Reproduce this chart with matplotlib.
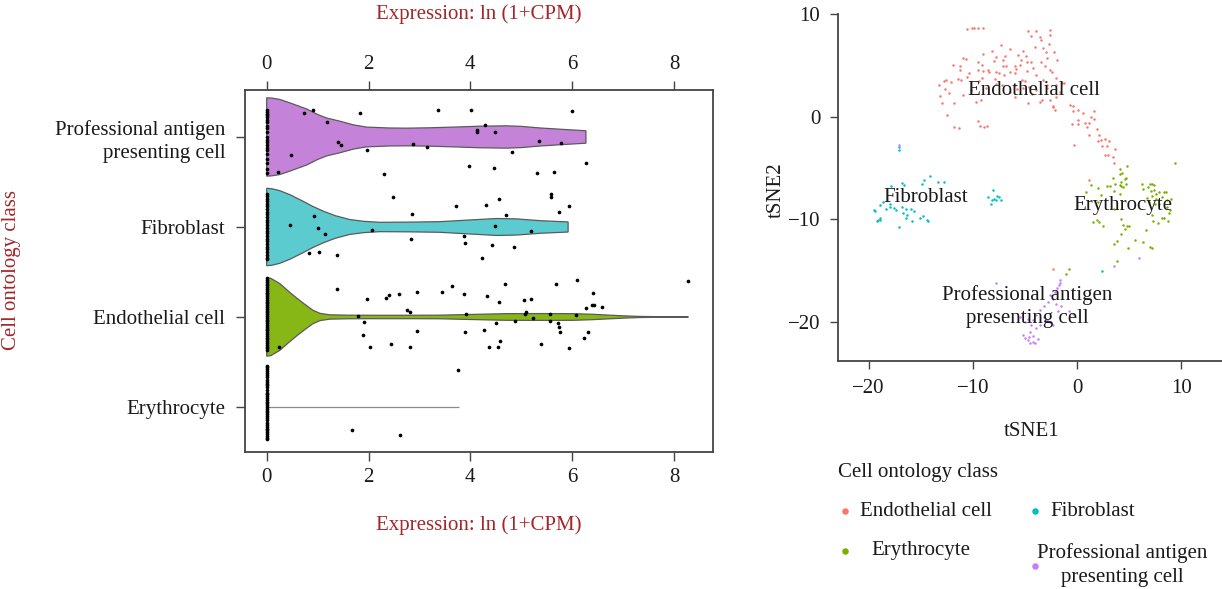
import numpy as np
import matplotlib
matplotlib.use("Agg")
import matplotlib.pyplot as plt

plt.rcParams['font.family'] = ['Liberation Serif', 'DejaVu Serif']
FS = 15
plt.rcParams['font.size'] = FS

# ---------------- data: violin panel ----------------
categories = ["Professional antigen\npresenting cell", "Fibroblast", "Endothelial cell", "Erythrocyte"]
violin_colors = ["#C483D8", "#5CCBCF", "#86B717", "#9A9A9A"]
x_ticks_expr = [0, 2, 4, 6, 8]

prof_prof_x = [0, 0.1, 0.26, 0.5, 0.79, 1.0, 1.18, 1.44, 1.7, 1.96, 2.4, 2.75, 3.2, 3.73, 4.2, 4.71, 5.0, 5.37, 5.8, 6.27]
prof_prof_w = [0.435, 0.432, 0.417, 0.37, 0.31, 0.25, 0.21, 0.175, 0.135, 0.11, 0.10, 0.098, 0.102, 0.111, 0.12, 0.124, 0.118, 0.10, 0.085, 0.069]
fib_prof_x = [0, 0.1, 0.25, 0.45, 0.7, 0.9, 1.11, 1.35, 1.63, 1.9, 2.22, 2.8, 3.4, 3.9, 4.51, 4.9, 5.37, 5.92]
fib_prof_w = [0.43, 0.425, 0.405, 0.36, 0.29, 0.23, 0.176, 0.125, 0.083, 0.063, 0.052, 0.054, 0.059, 0.075, 0.094, 0.09, 0.07, 0.056]
endo_prof_x = [0, 0.08, 0.26, 0.42, 0.59, 0.75, 0.91, 1.05, 1.24, 1.6, 2.09, 2.8, 3.4, 4.0, 4.71, 5.4, 6.02, 6.4, 6.68, 7.0, 7.33, 7.8, 8.28]
endo_prof_w = [0.435, 0.43, 0.37, 0.29, 0.21, 0.14, 0.074, 0.04, 0.024, 0.02, 0.019, 0.019, 0.02, 0.028, 0.037, 0.038, 0.037, 0.03, 0.022, 0.013, 0.006, 0.003, 0.002]
ery_prof_x = [0, 3.77]
ery_prof_w = [0.005, 0.005]

# expression points (value, jitter offset)
prof_x = [0.74, 0.90, 1.84, 3.37, 4.01, 6.00, 1.18, 4.29, 4.13, 4.13, 4.49, 1.41, 1.46, 0.47, 2.88, 3.15, 1.98, 5.34, 5.78, 4.81, 6.27, 0.22, 2.30, 3.97, 4.47, 5.31, 5.64]
prof_off = [-0.27, -0.30, -0.27, -0.30, -0.30, -0.29, -0.17, -0.13, -0.08, -0.06, -0.06, 0.06, 0.09, 0.20, 0.08, 0.11, 0.15, 0.04, 0.07, 0.17, 0.29, 0.39, 0.41, 0.32, 0.34, 0.40, 0.39]
prof_zero_off = [-0.30, -0.28, -0.26, -0.24, -0.22, -0.19, -0.17, -0.12, -0.10, -0.05, 0.0, 0.03, 0.06, 0.09, 0.12, 0.15, 0.19, 0.25, 0.29, 0.36, 0.40]

fib_x = [2.49, 3.71, 4.30, 4.57, 5.59, 5.59, 5.93, 5.74, 4.71, 2.86, 0.92, 0.46, 1.00, 1.14, 2.07, 4.49, 5.20, 3.87, 2.83, 3.90, 4.43, 4.86, 0.83, 1.03, 1.39, 4.23]
fib_off = [-0.33, -0.23, -0.24, -0.31, -0.37, -0.33, -0.23, -0.17, -0.13, -0.14, -0.12, -0.02, 0.01, 0.08, 0.03, -0.01, 0.04, 0.10, 0.13, 0.18, 0.20, 0.22, 0.29, 0.28, 0.31, 0.34]
fib_zero_off = [-0.37, -0.34, -0.31, -0.29, -0.26, -0.23, -0.20, -0.17, -0.14, -0.11, -0.08, -0.05, -0.02, 0.01, 0.04, 0.07, 0.10, 0.13, 0.16, 0.19, 0.22, 0.25, 0.28, 0.31, 0.34, 0.36]

endo_x = [1.39, 1.97, 2.34, 2.41, 2.60, 2.95, 3.44, 3.63, 3.88, 4.32, 4.69, 4.56, 5.06, 5.19, 5.69, 6.10, 6.41, 6.27, 6.39, 6.43, 6.58, 8.28, 2.76, 2.82, 1.79, 1.91, 1.89, 2.03, 2.45, 2.82, 2.95, 3.92, 3.90, 4.27, 4.50, 4.58, 4.37, 4.54, 4.88, 5.07, 5.10, 5.23, 5.38, 5.56, 5.57, 5.72, 5.74, 5.76, 5.93, 6.07, 6.23, 6.32, 0.25]
endo_off = [-0.31, -0.20, -0.21, -0.24, -0.26, -0.28, -0.28, -0.34, -0.26, -0.23, -0.37, -0.17, -0.19, -0.20, -0.37, -0.41, -0.27, -0.10, -0.13, -0.13, -0.11, -0.40, -0.08, -0.05, -0.01, 0.06, 0.20, 0.33, 0.30, 0.33, 0.16, -0.03, 0.17, 0.14, 0.07, 0.27, 0.33, 0.33, 0.05, -0.03, -0.06, 0.01, 0.30, -0.03, 0.04, 0.07, 0.11, 0.17, 0.34, -0.02, 0.23, 0.17, 0.33]
endo_zero_off = [-0.43, -0.41, -0.39, -0.37, -0.35, -0.33, -0.31, -0.29, -0.27, -0.25, -0.23, -0.21, -0.19, -0.17, -0.15, -0.13, -0.11, -0.09, -0.07, -0.05, -0.03, -0.01, 0.01, 0.03, 0.05, 0.07, 0.09, 0.11, 0.13, 0.15, 0.17, 0.19, 0.21, 0.23, 0.25, 0.27, 0.29, 0.31, 0.33, 0.35, 0.37]

ery_x = [3.76, 1.68, 2.61]
ery_off = [-0.41, 0.26, 0.31]
ery_zero_off = [-0.46, -0.44, -0.42, -0.40, -0.38, -0.36, -0.33, -0.30, -0.28, -0.26, -0.24, -0.22, -0.19, -0.16, -0.14, -0.12, -0.10, -0.08, -0.06, -0.04, -0.02, 0.0, 0.02, 0.04, 0.06, 0.08, 0.10, 0.12, 0.15, 0.18, 0.20, 0.22, 0.24, 0.26, 0.28, 0.30, 0.32, 0.34, 0.36]

# ---------------- data: tSNE panel ----------------
endo_tsne = [(-10.6, 8.5), (-10.1, 8.6), (-9.9, 8.6), (-9.5, 8.6), (-9.0, 8.6), (-4.7, 8.3), (-3.9, 8.3), (-2.6, 8.4),
             (-4.4, 7.9), (-3.6, 7.8), (-3.5, 7.5), (-2.6, 8.0), (-7.3, 7.0), (-6.4, 6.6), (-4.0, 6.8), (-2.7, 7.1),
             (-3.3, 6.7), (-3.0, 6.3), (-2.2, 6.3), (-5.2, 6.4), (-5.7, 6.0), (-4.9, 5.9), (-9.0, 6.1), (-7.8, 5.8),
             (-10.9, 5.7), (-10.7, 5.6), (-8.0, 5.4), (-7.1, 5.5), (-5.4, 5.5), (-4.8, 5.3), (-4.4, 5.3), (-3.5, 5.3),
             (-1.9, 5.5), (-2.9, 5.7), (-9.5, 5.3), (-9.1, 5.0), (-11.9, 5.0), (-11.2, 4.9), (-11.2, 4.5), (-9.5, 4.5),
             (-8.5, 4.5), (-7.8, 4.3), (-7.1, 4.9), (-6.8, 4.9), (-6.0, 4.9), (-5.5, 5.0), (-4.8, 4.4), (-4.2, 4.7),
             (-2.6, 4.5), (-2.4, 4.3), (-2.0, 3.8), (-1.4, 3.3), (-1.3, 3.3), (-9.0, 4.4), (-9.1, 3.8), (-8.4, 4.3),
             (-7.9, 3.7), (-7.5, 4.2), (-7.0, 4.1), (-6.4, 4.3), (-6.0, 4.2), (-5.3, 3.6), (-5.0, 3.5), (-3.9, 4.1),
             (-3.3, 3.6), (-2.9, 3.1), (-2.0, 3.1), (-12.6, 3.6), (-12.8, 3.5), (-12.1, 3.4), (-13.2, 3.1), (-11.4, 3.7),
             (-11.1, 3.6), (-10.6, 3.9), (-10.4, 4.2), (-9.4, 3.5), (-7.8, 3.2), (-7.2, 3.1), (-6.0, 3.1), (-5.8, 2.7),
             (-5.2, 2.8), (-4.6, 2.9), (-3.9, 2.6), (-2.9, 2.8), (-12.7, 2.7), (-12.3, 2.3), (-13.1, 2.0), (-13.0, 1.3),
             (-11.8, 1.3), (-10.9, 2.1), (-9.7, 1.4), (-9.2, 1.6), (-6.4, 2.4), (-6.0, 1.9), (-4.7, 1.3), (-3.6, 1.4),
             (-3.4, 1.6), (-2.6, 1.6), (-2.0, 1.9), (-2.3, 1.0), (-2.3, 0.9), (-2.1, 0.6), (-12.5, 0.2), (-11.8, -1.0),
             (-11.3, -1.1), (-9.5, -0.4), (-9.3, -0.9), (-8.9, -1.0), (-8.6, -0.9), (-0.7, 1.1), (-0.4, 1.0), (-0.4, 0.5),
             (0.1, 0.6), (0.6, 0.3), (1.6, 0.5), (1.3, 0.0), (1.6, -0.2), (0.1, -0.3), (-0.5, -0.7), (0.1, -0.7),
             (0.8, -0.6), (1.1, -0.6), (1.0, -1.0), (1.9, -1.2), (1.1, -1.8), (2.1, -1.8), (2.3, -2.3), (2.0, -2.4),
             (2.7, -2.2), (3.1, -2.4), (-0.3, -2.8), (2.4, -2.9), (2.9, -2.9), (3.6, -3.2), (2.7, -3.7), (3.0, -3.7),
             (3.4, -3.9), (3.5, -4.5), (1.1, -6.2), (-2.3, -14.9),
             (-8.2, 6.4), (-6.9, 5.9), (-5.9, 4.6), (-3.1, 4.9), (-8.7, 2.8), (-10.2, 2.6), (-4.3, 2.2), (-1.6, 2.4)]
fib_tsne = [(-14.1, -5.8), (-14.7, -6.2), (-14.9, -6.6), (-16.8, -6.5), (-16.6, -6.7), (-17.8, -6.8), (-13.3, -6.4),
            (-12.8, -6.4), (-18.9, -8.6), (-19.4, -9.2), (-18.3, -9.0), (-17.9, -8.8), (-17.6, -8.9), (-17.4, -9.1),
            (-16.8, -8.8), (-16.7, -9.4), (-16.4, -9.0), (-15.9, -9.0), (-15.6, -9.2), (-16.3, -9.6), (-16.4, -9.9),
            (-15.8, -10.2), (-15.1, -9.9), (-14.8, -9.7), (-14.4, -10.1), (-14.3, -10.2), (-18.9, -9.9), (-19.2, -10.2),
            (-18.9, -10.1), (-17.1, -10.8), (-18.6, -8.3), (-17.9, -8.5), (-8.1, -7.2), (-8.5, -7.8), (-8.2, -8.1),
            (-8.0, -8.0), (-7.7, -7.7), (-7.5, -7.8), (-7.3, -8.1), (-7.8, -8.1), (-8.3, -8.5), (-17.1, -3.0),
            (-17.1, -3.3), (-19.5, -9.1), (-19.1, -10.1), (2.4, -15.1)]
ery_tsne = [(4.1, -5.1), (4.8, -4.8), (4.1, -5.6), (4.3, -5.5), (4.7, -6.0), (4.6, -6.1), (3.4, -6.0), (1.3, -6.7),
            (2.9, -6.8), (3.2, -6.8), (3.6, -6.6), (4.1, -6.7), (4.2, -6.4), (4.2, -6.8), (4.4, -6.9), (4.7, -6.6),
            (2.0, -7.0), (2.3, -7.6), (0.9, -7.4), (3.5, -7.3), (4.1, -7.5), (6.2, -6.6), (6.3, -7.1), (7.0, -6.6),
            (7.2, -6.6), (7.4, -6.7), (6.8, -6.9), (7.1, -7.3), (7.4, -7.2), (7.6, -7.5), (7.9, -7.4), (8.3, -7.4),
            (8.5, -7.4), (6.7, -7.9), (7.2, -7.7), (7.6, -8.0), (8.1, -7.8), (8.6, -8.1), (9.0, -8.0), (6.9, -8.3),
            (7.5, -8.5), (7.9, -8.5), (8.6, -8.8), (8.9, -9.1), (8.8, -9.4), (2.0, -8.3), (3.5, -9.0), (7.2, -9.6),
            (8.1, -9.9), (8.3, -9.9), (7.3, -10.2), (7.8, -10.4), (8.7, -10.2), (1.5, -10.3), (1.9, -10.1), (2.1, -10.3),
            (2.5, -10.7), (4.2, -10.0), (4.4, -10.6), (4.8, -10.7), (4.6, -11.0), (5.0, -10.7), (6.6, -11.1), (4.2, -11.4),
            (3.8, -12.1), (3.5, -12.4), (5.6, -12.0), (6.3, -12.2), (7.0, -12.7), (7.2, -12.8), (4.9, -12.8), (9.4, -4.5),
            (3.85, -14.1), (-0.8, -14.9), (-1.1, -15.3)]
apc_tsne = [(-1.6, -15.9), (-1.6, -16.2), (-1.7, -16.4), (-1.9, -16.7), (-2.1, -17.1), (-2.6, -17.4), (-2.3, -17.8),
            (-2.8, -18.1), (-3.2, -18.5), (-2.0, -18.3), (-1.5, -18.5), (-0.8, -19.0), (-0.4, -19.2), (-1.8, -19.0),
            (-3.6, -18.9), (-3.9, -19.3), (-4.2, -19.8), (-4.7, -19.7), (-5.0, -20.0), (-4.4, -20.3), (-5.5, -19.5),
            (-3.2, -19.5), (-2.9, -19.8), (-2.6, -20.0), (-3.9, -20.6), (-4.5, -21.0), (-5.2, -21.3), (-5.0, -21.6),
            (-4.7, -21.8), (-4.2, -21.4), (-3.7, -21.7), (-4.0, -22.1), (-4.5, -22.1), (-3.6, -20.3), (-2.3, -20.3),
            (-7.8, -16.2), (-4.6, -21.5), (-4.2, -22.0), (5.9, -13.8), (3.5, -14.6), (-17.1, -2.8)]
tsne_names = ["Endothelial cell", "Fibroblast", "Erythrocyte", "Professional antigen\npresenting cell"]
tsne_colors = ["#F8766D", "#00BFC4", "#7CAE00", "#C77CFF"]
tsne_label_pos = [(-4.1, 2.5), (-14.5, -7.9), (4.4, -8.7), (-4.8, -18.5)]
tsne_ticks = [-20, -10, 0, 10]

# ---------------- figure ----------------
W, H = 1222, 589
fig = plt.figure(figsize=(W / 100, H / 100), dpi=100)
red = "#A3262A"
txt = "#1a1a1a"
axc = "#444444"
LS = 1.3

ax = fig.add_axes([245.3 / W, 1 - 451.7 / H, (712.7 - 245.3) / W, (451.7 - 90) / H])
profiles = [(prof_prof_x, prof_prof_w), (fib_prof_x, fib_prof_w), (endo_prof_x, endo_prof_w), (ery_prof_x, ery_prof_w)]
for i, (px, pw) in enumerate(profiles):
    px = np.asarray(px); pw = np.asarray(pw)
    xs = np.concatenate([px, px[::-1]])
    ys = np.concatenate([i - pw, (i + pw)[::-1]])
    ax.fill(xs, ys, facecolor=violin_colors[i], edgecolor="#5a5a5a" if i < 3 else "#8a8a8a",
            linewidth=0.9, zorder=2)

pts = [(prof_x, prof_off, prof_zero_off), (fib_x, fib_off, fib_zero_off),
       (endo_x, endo_off, endo_zero_off), (ery_x, ery_off, ery_zero_off)]
for i, (vx, vo, zo) in enumerate(pts):
    allx = list(vx) + [0.0] * len(zo)
    ally = [i + o for o in list(vo) + list(zo)]
    ax.scatter(allx, ally, s=7, color="black", zorder=3, linewidths=0)

ax.set_xlim(-0.42, 8.76)
ax.set_ylim(3.497, -0.522)
ax.set_yticks(range(len(categories)))
ax.set_yticklabels(categories, linespacing=LS)
ax.set_xticks(x_ticks_expr)
ax.tick_params(axis='x', top=True, labeltop=True, bottom=True, labelbottom=True,
               length=6.5, width=1.0, color=axc, pad=5, labelsize=FS, labelcolor=txt)
ax.tick_params(axis='y', length=6.5, width=1.0, color=axc, pad=8, labelsize=FS, labelcolor=txt)
for s in ax.spines.values():
    s.set_color(axc)
    s.set_linewidth(1.3)

fig.text(479 / W, 1 - 14 / H, "Expression: ln (1+CPM)", color=red, ha='center', va='center', fontsize=FS)
fig.text(479 / W, 1 - 525 / H, "Expression: ln (1+CPM)", color=red, ha='center', va='center', fontsize=FS)
fig.text(12 / W, 1 - 270 / H, "Cell ontology class", color=red, ha='center', va='center', rotation=90, fontsize=FS)

# tSNE panel
ax2 = fig.add_axes([838.3 / W, 1 - 360.7 / H, (W - 838.3) / W, (360.7 - 14) / H])
for data, col in zip([endo_tsne, fib_tsne, ery_tsne, apc_tsne], tsne_colors):
    a = np.array(data)
    ax2.scatter(a[:, 0], a[:, 1], s=3.2, color=col, linewidths=0, zorder=2)
for name, (lx, ly) in zip(tsne_names, tsne_label_pos):
    ax2.text(lx, ly, name, ha='center', va='center', fontsize=FS, color=txt, linespacing=LS, zorder=3)
ax2.set_xlim(-22.9, 13.9)
ax2.set_ylim(-23.8, 10)
ax2.set_xticks(tsne_ticks)
ax2.set_yticks([-20, -10, 0, 10])
ax2.set_xticklabels(["\u221220", "\u221210", "0", "10"])
ax2.set_yticklabels(["\u221220", "\u221210", "0", "10"])
for s in ["top", "right"]:
    ax2.spines[s].set_visible(False)
for s in ["left", "bottom"]:
    ax2.spines[s].set_color(axc)
    ax2.spines[s].set_linewidth(1.3)
ax2.tick_params(length=6, width=1.0, color=axc, pad=7, labelsize=FS, labelcolor=txt)
fig.text(1032 / W, 1 - 432 / H, "tSNE1", ha='center', va='center', fontsize=FS, color=txt)
fig.text(776 / W, 1 - 190 / H, "tSNE2", ha='center', va='center', rotation=90, fontsize=FS, color=txt)

# legend (manual)
lax = fig.add_axes([0, 0, 1, 1])
lax.set_xlim(0, W); lax.set_ylim(H, 0); lax.axis('off')
lax.text(838, 472, "Cell ontology class", ha='left', va='center', fontsize=FS, color=txt)
leg_items = [("Endothelial cell", tsne_colors[0], (845, 511), (860, 511), 'left'),
             ("Fibroblast", tsne_colors[1], (1035, 511), (1050, 511), 'left'),
             ("Erythrocyte", tsne_colors[2], (845, 551), (871, 551), 'left'),
             ("Professional antigen\npresenting cell", tsne_colors[3], (1035, 566), (1122, 565), 'center')]
for name, col, (dx, dy), (tx, ty), ha in leg_items:
    lax.scatter([dx], [dy], s=22, color=col, linewidths=0)
    lax.text(tx, ty, name, ha=ha, va='center', fontsize=FS, color=txt, linespacing=LS, multialignment='center')

fig.savefig("out.png", dpi=100)
